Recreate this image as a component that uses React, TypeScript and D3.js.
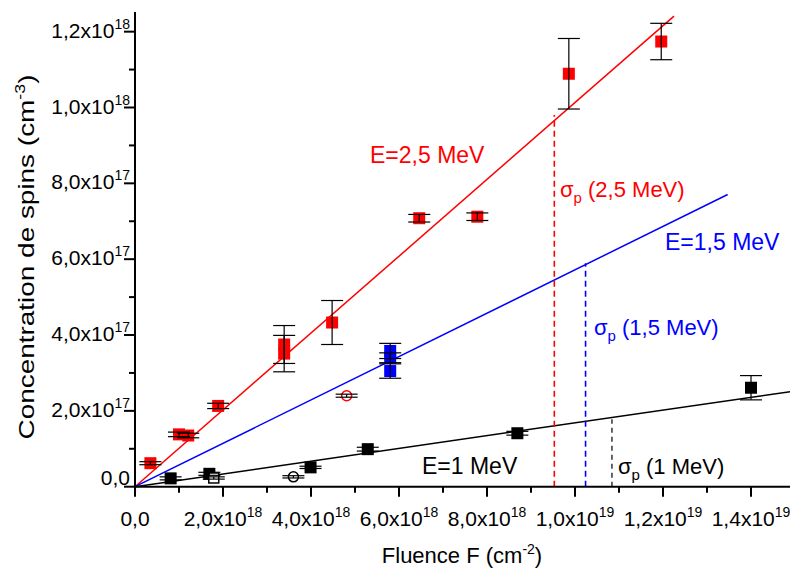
import React from 'react';
import * as d3 from 'd3';

const W = 790;
const H = 572;

// x ticks (fluence, cm^-2)
const xMajor = [0, 2e18, 4e18, 6e18, 8e18, 1e19, 1.2e19, 1.4e19];
const xMant = ['0,0', '2,0', '4,0', '6,0', '8,0', '1,0', '1,2', '1,4'];
const xExp = ['', '18', '18', '18', '18', '19', '19', '19'];
const xMinor = [1e18, 3e18, 5e18, 7e18, 9e18, 1.1e19, 1.3e19, 1.5e19];

// y ticks (spin concentration, cm^-3)
const yMajor = [0, 2e17, 4e17, 6e17, 8e17, 1e18, 1.2e18];
const yMant = ['0,0', '2,0', '4,0', '6,0', '8,0', '1,0', '1,2'];
const yExp = ['', '17', '17', '17', '17', '18', '18'];
const yMinor = [1e17, 3e17, 5e17, 7e17, 9e17, 1.1e18];

// E = 2,5 MeV (red)
const redF = [0.35e18, 1.0e18, 1.21e18, 1.89e18, 3.39e18, 3.39e18, 4.48e18, 6.46e18, 7.78e18, 9.86e18, 1.196e19];
const redC = [0.62e17, 1.38e17, 1.35e17, 2.13e17, 3.75e17, 3.51e17, 4.33e17, 7.08e17, 7.12e17, 10.89e17, 11.74e17];
const redErr = [0.04e17, 0.06e17, 0.06e17, 0.07e17, 0.5e17, 0.48e17, 0.58e17, 0.1e17, 0.1e17, 0.93e17, 0.48e17];
const redOpenF = [4.81e18];
const redOpenC = [2.4e17];
const redOpenErr = [0.04e17];

// E = 1,5 MeV (blue)
const blueF = [5.8e18, 5.8e18, 5.8e18];
const blueC = [3.58e17, 3.4e17, 3.05e17];
const blueErr = [0.2e17, 0.13e17, 0.19e17];

// E = 1 MeV (black)
const blackF = [0.81e18, 1.69e18, 3.99e18, 5.29e18, 8.69e18, 1.4e19];
const blackC = [0.22e17, 0.34e17, 0.51e17, 0.99e17, 1.41e17, 2.61e17];
const blackErr = [0.04e17, 0.04e17, 0.03e17, 0.05e17, 0.05e17, 0.32e17];
const blackOpenSqF = [1.79e18];
const blackOpenSqC = [0.23e17];
const blackOpenSqErr = [0.03e17];
const blackOpenCircF = [3.6e18];
const blackOpenCircC = [0.26e17];
const blackOpenCircErr = [0.03e17];

// linear fits C = slope * F
const fitColors = ['#ff0000', '#0000ff', '#000000'];
const fitSlope = [0.1013, 0.0572, 0.01683];
const fitEndF = [1.225e19, 1.347e19, 1.5e19];

// threshold fluences (sigma_p)
const sigmaF = [9.53e18, 1.024e19, 1.084e19];
const sigmaTopC = [9.8e17, 5.89e17, 1.78e17];

const FONT = '"Liberation Sans", Arial, sans-serif';

export default function App() {
  const x = d3.scaleLinear().domain([0, 1.5e19]).range([135, 795]);
  const y = d3.scaleLinear().domain([0, 1.25e18]).range([486.7, 12.7]);
  const line = d3.line<[number, number]>().x(d => x(d[0])).y(d => y(d[1]));

  const capW = 22;
  const errBar = (f: number, c: number, e: number, key: string) => (
    <g key={key} stroke="#000" strokeWidth={1.2} fill="none">
      <line x1={x(f)} x2={x(f)} y1={y(c - e)} y2={y(c + e)} />
      <line x1={x(f) - capW / 2} x2={x(f) + capW / 2} y1={y(c + e)} y2={y(c + e)} />
      <line x1={x(f) - capW / 2} x2={x(f) + capW / 2} y1={y(c - e)} y2={y(c - e)} />
    </g>
  );
  const sq = 12;
  const square = (f: number, c: number, color: string, key: string) => (
    <rect key={key} x={x(f) - sq / 2} y={y(c) - sq / 2} width={sq} height={sq} fill={color} />
  );

  const y0 = y(0);

  return (
    <svg width={W} height={H} style={{ position: 'absolute', left: 0, top: 0, background: '#fff' }} fontFamily={FONT}>
      <rect x={0} y={0} width={W} height={H} fill="#fff" />

      {/* fit lines */}
      {fitSlope.map((s, i) => (
        <path key={'fit' + i} d={line([[0, 0], [fitEndF[i], fitEndF[i] * s]]) || ''} stroke={fitColors[i]} strokeWidth={1.5} fill="none" />
      ))}

      {/* sigma_p dashed lines */}
      {sigmaF.map((f, i) => (
        <line key={'sig' + i} x1={x(f)} x2={x(f)} y1={y0} y2={y(sigmaTopC[i])} stroke={fitColors[i]}
          strokeWidth={i === 2 ? 1.2 : 1.6} strokeDasharray={i === 2 ? '5,4' : '6,4'} />
      ))}

      {/* markers */}
      {redF.map((f, i) => square(f, redC[i], '#ff0000', 'rs' + i))}
      {blueF.map((f, i) => square(f, blueC[i], '#0000ff', 'bs' + i))}
      {blackF.map((f, i) => square(f, blackC[i], '#000000', 'ks' + i))}
      {blackOpenSqF.map((f, i) => (
        <rect key={'kos' + i} x={x(f) - 5} y={y(blackOpenSqC[i]) - 5} width={10} height={10} fill="#fff" stroke="#000" strokeWidth={1.5} />
      ))}
      {redOpenF.map((f, i) => (
        <circle key={'roc' + i} cx={x(f)} cy={y(redOpenC[i])} r={5} fill="#fff" stroke="#ff0000" strokeWidth={1.5} />
      ))}
      {blackOpenCircF.map((f, i) => (
        <circle key={'koc' + i} cx={x(f)} cy={y(blackOpenCircC[i])} r={5} fill="#fff" stroke="#000" strokeWidth={1.5} />
      ))}

      {/* error bars */}
      {redF.map((f, i) => errBar(f, redC[i], redErr[i], 're' + i))}
      {blueF.map((f, i) => errBar(f, blueC[i], blueErr[i], 'be' + i))}
      {blackF.map((f, i) => errBar(f, blackC[i], blackErr[i], 'ke' + i))}
      {redOpenF.map((f, i) => errBar(f, redOpenC[i], redOpenErr[i], 'roe' + i))}
      {blackOpenSqF.map((f, i) => errBar(f, blackOpenSqC[i], blackOpenSqErr[i], 'kose' + i))}
      {blackOpenCircF.map((f, i) => errBar(f, blackOpenCircC[i], blackOpenCircErr[i], 'koce' + i))}

      {/* axes */}
      <line x1={x(0)} x2={x(0)} y1={y0 + 1} y2={12} stroke="#000" strokeWidth={2} />
      <line x1={x(0) - 1} x2={W + 10} y1={y0} y2={y0} stroke="#000" strokeWidth={2} />
      {xMajor.map(v => <line key={'xM' + v} x1={x(v)} x2={x(v)} y1={y0} y2={y0 + 10} stroke="#000" strokeWidth={2} />)}
      {xMinor.map(v => <line key={'xm' + v} x1={x(v)} x2={x(v)} y1={y0} y2={y0 + 6} stroke="#000" strokeWidth={2} />)}
      {yMajor.map(v => <line key={'yM' + v} x1={x(0) - 11} x2={x(0)} y1={y(v)} y2={y(v)} stroke="#000" strokeWidth={2} />)}
      {yMinor.map(v => <line key={'ym' + v} x1={x(0) - 6} x2={x(0)} y1={y(v)} y2={y(v)} stroke="#000" strokeWidth={2} />)}

      {/* x tick labels */}
      {xMajor.map((v, i) => (
        <text key={'xl' + v} x={x(v)} y={526} textAnchor="middle" fontSize={21} fill="#000">
          {xMant[i]}
          {xExp[i] && <>x10<tspan fontSize={14} dy={-9}>{xExp[i]}</tspan></>}
        </text>
      ))}
      {/* y tick labels */}
      {yMajor.map((v, i) => (
        <text key={'yl' + v} x={130} y={y(v) + (i === 0 ? -2 : 6)} textAnchor="end" fontSize={21} fill="#000">
          {yMant[i]}
          {yExp[i] && <>x10<tspan fontSize={14} dy={-9}>{yExp[i]}</tspan></>}
        </text>
      ))}

      {/* axis titles */}
      <text x={462} y={563} textAnchor="middle" fontSize={22} fill="#000">
        Fluence F (cm<tspan fontSize={14} dy={-9}>-2</tspan><tspan dy={9}>)</tspan>
      </text>
      <text transform="translate(34,257) rotate(-90) scale(1.27,1)" textAnchor="middle" fontSize={22} fill="#000">
        Concentration de spins (cm<tspan fontSize={14} dy={-9}>-3</tspan><tspan dy={9}>)</tspan>
      </text>

      {/* annotations */}
      <text x={370} y={163} fontSize={23} fill="#ff0000">E=2,5 MeV</text>
      <text x={665} y={250} fontSize={23} fill="#0000ff">E=1,5 MeV</text>
      <text x={422} y={474} fontSize={23} fill="#000">E=1 MeV</text>
      <text x={560} y={197} fontSize={22} fill="#ff0000">σ<tspan fontSize={15} dy={6}>p</tspan><tspan dy={-6}> (2,5 MeV)</tspan></text>
      <text x={594} y={335} fontSize={22} fill="#0000ff">σ<tspan fontSize={15} dy={6}>p</tspan><tspan dy={-6}> (1,5 MeV)</tspan></text>
      <text x={618} y={474} fontSize={22} fill="#000">σ<tspan fontSize={15} dy={6}>p</tspan><tspan dy={-6}> (1 MeV)</tspan></text>
    </svg>
  );
}
